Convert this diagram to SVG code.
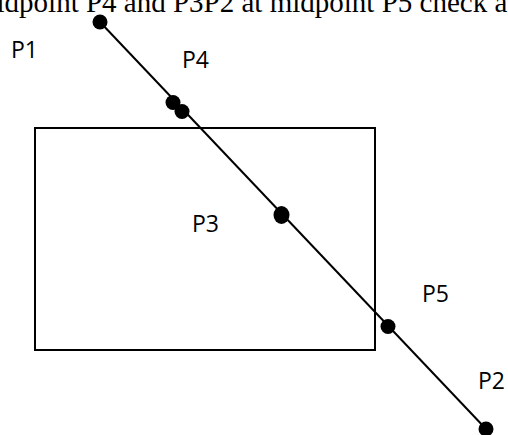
<svg xmlns="http://www.w3.org/2000/svg" width="508" height="435" viewBox="0 0 508 435">
<style>
.title{font-family:"Liberation Serif","Times New Roman",serif;font-size:29px;fill:#000}
.lbl{font-family:"Open Sans","Noto Sans",sans-serif;font-size:23px;fill:#000}
.pt{fill:#000}
.ln{stroke:#000;stroke-width:2;fill:none}
</style>
<rect width="508" height="435" fill="#fff"/>
<text class="title" x="-26" y="12">midpoint P4 and P3P2 at midpoint P5 check a</text>
<g id="rect"><rect class="ln" x="35" y="128" width="340" height="222"/></g>
<g id="connectors"><line class="ln" x1="100" y1="22" x2="486" y2="429"/></g>
<g id="P1"><circle class="pt" cx="100" cy="22" r="7.5"/><text class="lbl" x="11" y="58">P1</text></g>
<g id="P4"><circle class="pt" cx="173" cy="102.5" r="7.5"/><circle class="pt" cx="182" cy="111.5" r="7.5"/><text class="lbl" x="182" y="68">P4</text></g>
<g id="P3"><ellipse class="pt" cx="281.5" cy="215" rx="8" ry="9"/><text class="lbl" x="192" y="232">P3</text></g>
<g id="P5"><circle class="pt" cx="388" cy="326.5" r="7.5"/><text class="lbl" x="422" y="302">P5</text></g>
<g id="P2"><circle class="pt" cx="486" cy="429" r="7.5"/><text class="lbl" x="478" y="389">P2</text></g>
</svg>
